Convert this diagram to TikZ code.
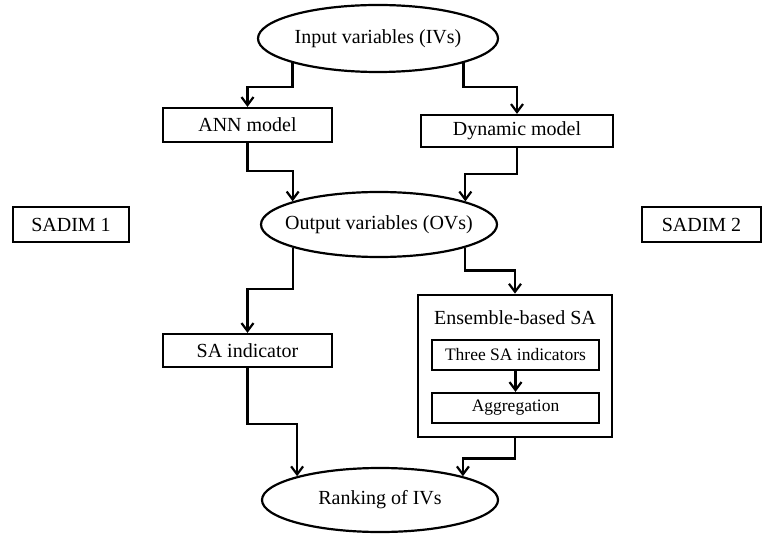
\documentclass[tikz,border=0pt]{standalone}
\usepackage{fontspec}
\setmainfont{Liberation Serif}
\usetikzlibrary{shapes,arrows.meta,positioning,calc}

\begin{document}
\begin{tikzpicture}[x=1pt, y=-1pt, line width=2.2pt,
  every node/.style={font=\fontsize{20}{24}\selectfont, inner sep=0pt},
  oval/.style={ellipse, draw, fill=white, inner xsep=-15pt, minimum width=236pt, minimum height=65pt},
  box/.style={rectangle, draw, minimum height=33pt},
  small/.style={box, minimum width=167pt, minimum height=30pt, font=\fontsize{17.5}{21}\selectfont},
  arr/.style={-{Straight Barb[length=8pt, width=12pt, line width=2.2pt]}}]
  \useasboundingbox (0,0) rectangle (762,534);

  % Eingang und Modelle
  \node[oval, minimum width=240pt, minimum height=67pt] (in) at (378,38.5) {Input variables (IVs)};
  \node[box, minimum width=169pt, minimum height=34pt] (ann) at (247.5,125) {ANN model};
  \node[box, minimum width=192pt, minimum height=32pt] (dyn) at (517,131) {Dynamic model};
  \node[oval] (out) at (379,224.5) {Output variables (OVs)};

  \node[box, minimum width=116pt, minimum height=35pt] (sadim1) at (71,224.5) {SADIM 1};
  \node[box, minimum width=119pt, minimum height=35pt] (sadim2) at (701.5,224.5) {SADIM 2};

  % Auswertung
  \node[box, minimum width=169pt] (sai) at (247.5,350.5) {SA indicator};
  \node[rectangle, draw, line width=2.8pt, minimum width=194pt, minimum height=142pt] (ens) at (515,366) {};
  \node (enstitle) at (515,318) {Ensemble-based SA};
  \node[small] (three) at (515.5,355) {Three SA indicators};
  \node[small] (agg) at (515.5,408) {Aggregation};
  \node[oval, minimum height=64pt] (rank) at (380,500) {Ranking of IVs};

  % Pfeile
  \draw[arr] (in.196) |- ($(ann.north)+(0,-20)$) -- (ann.north);
  \draw[arr] (in.344) |- ($(dyn.north)+(0,-27)$) -- (dyn.north);
  \draw[arr] (ann.south) -- ++(0,28) -| (out.165);
  \draw[arr] (dyn.south) -- ++(0,26) -| (out.15);
  \draw[arr] (out.195) |- ($(sai.north)+(0,-44)$) -- (sai.north);
  \draw[arr] (out.345) |- ($(ens.north)+(0,-23)$) -- (ens.north);
  \draw[arr] (three) -- (agg);
  \draw[arr] (sai.south) -- ++(0,56) -| (rank.164);
  \draw[arr] (ens.south) -- ++(0,20) -| (rank.16);
\end{tikzpicture}
\end{document}
